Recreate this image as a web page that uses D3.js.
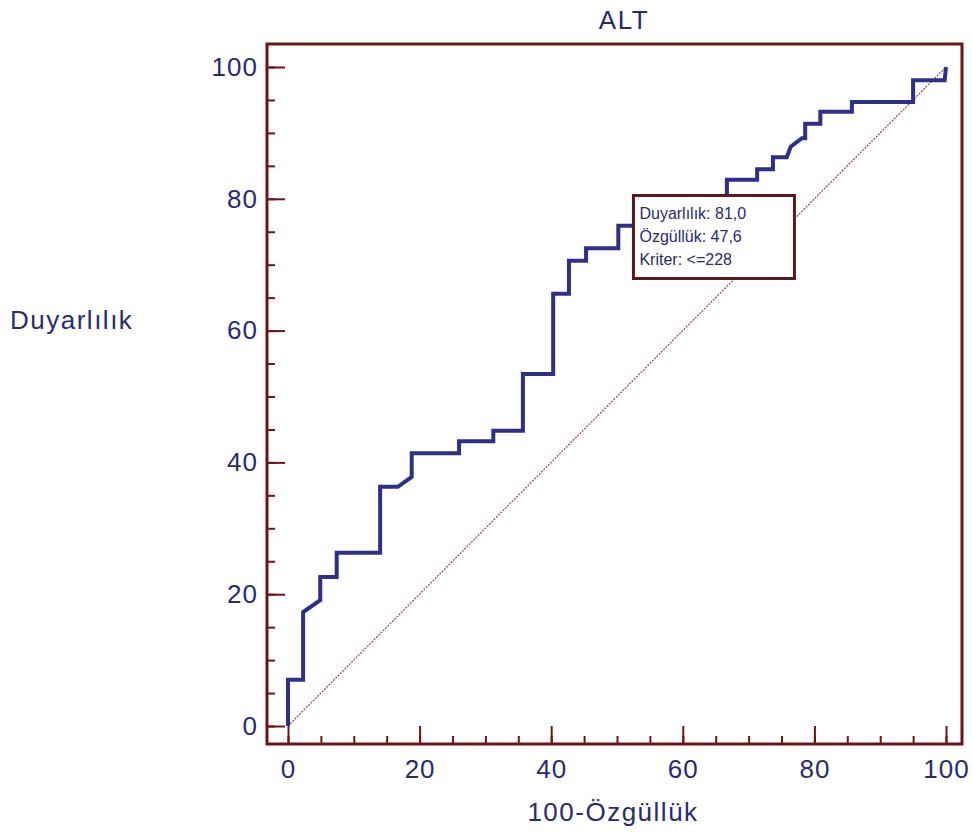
<!DOCTYPE html>
<html lang="tr">
<head>
<meta charset="UTF-8">
<title>ALT</title>
<script src="https://d3js.org/d3.v7.min.js"></script>
<style>
    body { margin: 0; background: #fff; }
    svg { display: block; font-family: "Liberation Sans", Arial, sans-serif; }
    .lbl { fill: #2a2a72; }
</style>
</head>
<body>
<svg id="chart" width="972" height="834"></svg>
<script>
    // ROC eğrisi noktaları (100-Özgüllük, Duyarlılık)
    const fpr = [0, 0, 2.3, 2.3, 4.9, 4.9, 7.4, 7.4, 14.0, 14.0, 16.7, 18.8, 18.8, 26.0, 26.0, 31.2, 31.2, 35.7, 35.7, 40.3, 40.3, 42.7, 42.7, 45.3, 45.3, 50.2, 50.2, 60.0, 60.0, 66.7, 66.7, 71.3, 71.3, 73.7, 73.7, 75.8, 76.4, 78.1, 78.6, 78.6, 80.9, 80.9, 85.7, 85.7, 95.0, 95.0, 99.8, 100];
    const tpr = [0, 7.0, 7.0, 17.3, 19.1, 22.6, 22.6, 26.3, 26.3, 36.3, 36.3, 37.8, 41.4, 41.4, 43.2, 43.2, 44.8, 44.8, 53.4, 53.4, 65.6, 65.6, 70.6, 70.6, 72.5, 72.5, 75.9, 75.9, 79.5, 79.5, 82.9, 82.9, 84.5, 84.5, 86.3, 86.3, 87.9, 89.2, 89.2, 91.4, 91.4, 93.2, 93.2, 94.7, 94.7, 98.0, 98.0, 100];
    const majorTicks = [0, 20, 40, 60, 80, 100];
    const minorTicks = d3.range(0, 101, 5);
    const infoLines = ["Duyarlılık: 81,0", "Özgüllük: 47,6", "Kriter: <=228"];
    const infoAt = [52.5, 80.5];

    const svg = d3.select("#chart");
    const frame = { left: 267, top: 44, right: 962, bottom: 744 };

    const x = d3.scaleLinear().domain([0, 100]).range([288, 946]);
    const y = d3.scaleLinear().domain([0, 100]).range([726, 67]);

    const frameColor = "#6e1414";

    // diagonal referans çizgisi
    svg.append("line")
        .attr("x1", x(0)).attr("y1", y(0))
        .attr("x2", x(100)).attr("y2", y(100))
        .attr("stroke", "#8a4a3e")
        .attr("stroke-width", 1.2)
        .attr("stroke-dasharray", "2,1.2");

    // ROC eğrisi
    const pts = fpr.map((d, i) => [d, tpr[i]]);
    svg.append("path")
        .datum(pts)
        .attr("fill", "none")
        .attr("stroke", "#2e2f8a")
        .attr("stroke-width", 4)
        .attr("stroke-linejoin", "miter")
        .attr("d", d3.line().x(d => x(d[0])).y(d => y(d[1])));

    // çerçeve
    svg.append("rect")
        .attr("x", frame.left).attr("y", frame.top)
        .attr("width", frame.right - frame.left)
        .attr("height", frame.bottom - frame.top)
        .attr("fill", "none")
        .attr("stroke", frameColor)
        .attr("stroke-width", 3);

    // eksenler: küçük çentikler
    const minorX = svg.append("g")
        .attr("transform", "translate(0," + frame.bottom + ")")
        .call(d3.axisBottom(x).tickValues(minorTicks).tickSize(-8).tickFormat(""));
    const minorY = svg.append("g")
        .attr("transform", "translate(" + frame.left + ",0)")
        .call(d3.axisLeft(y).tickValues(minorTicks).tickSize(-8).tickFormat(""));

    // büyük çentikler + etiketler
    const majorX = svg.append("g")
        .attr("transform", "translate(0," + frame.bottom + ")")
        .call(d3.axisBottom(x).tickValues(majorTicks).tickSize(-18).tickPadding(16));
    const majorY = svg.append("g")
        .attr("transform", "translate(" + frame.left + ",0)")
        .call(d3.axisLeft(y).tickValues(majorTicks).tickSize(-18).tickPadding(9));

    [minorX, minorY, majorX, majorY].forEach(g => {
        g.select(".domain").remove();
        g.selectAll("line").attr("stroke", frameColor).attr("stroke-width", 2);
        g.selectAll("text")
            .attr("fill", "#2a2a72")
            .style("font-size", "26px")
            .style("letter-spacing", "1px")
            .style("font-family", "'Liberation Sans', Arial, sans-serif");
    });

    // başlıklar
    svg.append("text").attr("class", "lbl")
        .attr("x", 624).attr("y", 29)
        .attr("text-anchor", "middle")
        .style("font-size", "26px")
        .style("letter-spacing", "1.5px")
        .text("ALT");
    svg.append("text").attr("class", "lbl")
        .attr("x", 613).attr("y", 821)
        .attr("text-anchor", "middle")
        .style("font-size", "26px")
        .style("letter-spacing", "1.5px")
        .text("100-Özgüllük");
    svg.append("text").attr("class", "lbl")
        .attr("x", 10).attr("y", 329)
        .style("font-size", "26px")
        .style("letter-spacing", "1.5px")
        .text("Duyarlılık");

    // bilgi kutusu
    const bx = x(infoAt[0]), by = y(infoAt[1]);
    svg.append("rect")
        .attr("x", bx).attr("y", by)
        .attr("width", 161).attr("height", 83)
        .attr("fill", "#fff")
        .attr("stroke", "#5a1a1a")
        .attr("stroke-width", 3);
    svg.selectAll(".info")
        .data(infoLines)
        .enter().append("text")
        .attr("class", "info lbl")
        .attr("x", bx + 6)
        .attr("y", (d, i) => by + 23 + i * 23)
        .style("font-size", "16px")
        .text(d => d);
</script>
</body>
</html>
